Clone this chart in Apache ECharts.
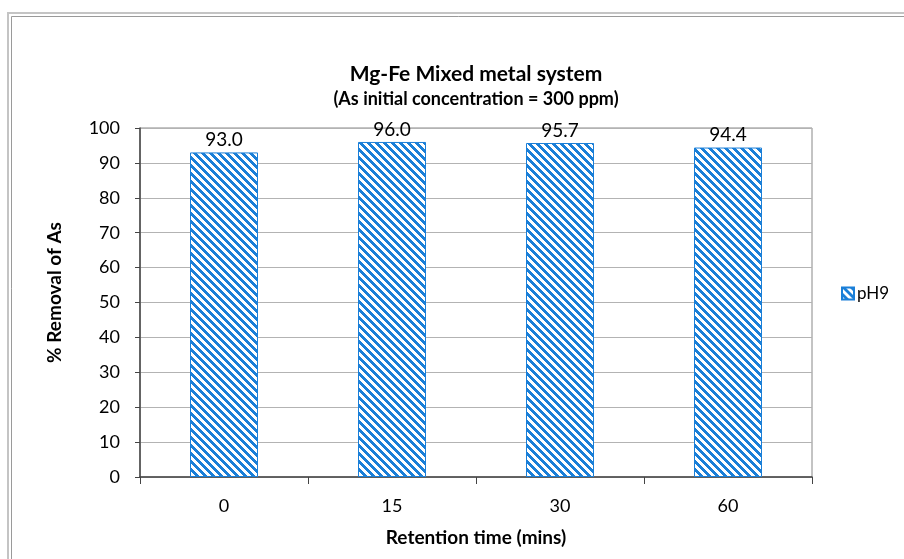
<!DOCTYPE html>
<html lang="en">
<head>
    <meta charset="utf-8">
    <title>Mg-Fe Mixed metal system</title>
    <script src="https://cdn.jsdelivr.net/npm/echarts@6/dist/echarts.min.js"></script>
    <style>
        html, body { margin: 0; padding: 0; background: #fff; }
        #chart { width: 904px; height: 559px; }
    </style>
</head>
<body>
<div id="chart"></div>
<script>
// 数据
var categories = ['0', '15', '30', '60'];
var removal = [93.0, 96.0, 95.7, 94.4];
var seriesName = 'pH9';

var FONT = 'Lato, "Open Sans", sans-serif';
var BLUE = '#1a7fd8';

// 斜线填充 (like the excel "wide downward diagonal")
function makeStripes() {
    var p = 8;
    var c = document.createElement('canvas');
    c.width = p; c.height = p;
    var ctx = c.getContext('2d');
    var img = ctx.createImageData(p, p);
    for (var y = 0; y < p; y++) {
        for (var x = 0; x < p; x++) {
            var i = (y * p + x) * 4;
            var on = ((x - y + p * 2) % p) < 4;
            img.data[i] = on ? 26 : 255;
            img.data[i + 1] = on ? 127 : 255;
            img.data[i + 2] = on ? 216 : 255;
            img.data[i + 3] = 255;
        }
    }
    ctx.putImageData(img, 0, 0);
    return c;
}
var stripes = { image: makeStripes(), repeat: 'repeat' };

var myChart = echarts.init(document.getElementById('chart'));
var option = {
    animation: false,
    title: [{
        text: 'Mg-Fe Mixed metal system',
        left: 471, top: 59, textAlign: 'center',
        textStyle: { fontFamily: FONT, fontSize: 21, fontWeight: 'bold', color: '#000' }
    }, {
        text: '(As initial concentration = 300 ppm)',
        left: 471, top: 85, textAlign: 'center',
        textStyle: { fontFamily: FONT, fontSize: 18, fontWeight: 'bold', color: '#000' }
    }],
    graphic: [{
        type: 'rect', silent: true,
        shape: { x: 8, y: 13, width: 920, height: 580 },
        style: { fill: 'none', stroke: '#c4c4c4', lineWidth: 2 }
    }, {
        type: 'rect', silent: true,
        shape: { x: 11.5, y: 16.5, width: 920, height: 580 },
        style: { fill: 'none', stroke: '#9a9a9a', lineWidth: 1 }
    }],
    legend: {
        data: [seriesName],
        left: 836, top: 280,
        icon: 'rect', itemWidth: 12, itemHeight: 12, itemGap: 4,
        textStyle: { fontFamily: FONT, fontSize: 17, color: '#000', padding: [0, 0, 0, -2] }
    },
    grid: { left: 140, right: 92, top: 128, height: 349, containLabel: false, show: true, borderColor: '#888', borderWidth: 1 },
    xAxis: {
        type: 'category',
        data: categories,
        name: 'Retention time (mins)',
        nameLocation: 'middle', nameGap: 51,
        nameTextStyle: { fontFamily: FONT, fontSize: 19, fontWeight: 'bold', color: '#000' },
        axisLine: { lineStyle: { color: '#444', width: 1.5 } },
        axisTick: { show: true, alignWithLabel: false, length: 7, lineStyle: { color: '#444' } },
        axisLabel: { fontFamily: FONT, fontSize: 18, color: '#000', margin: 20 }
    },
    yAxis: {
        type: 'value',
        min: 0, max: 100, interval: 10,
        name: '% Removal of As',
        nameLocation: 'middle', nameGap: 76, nameRotate: 90,
        nameTextStyle: { fontFamily: FONT, fontSize: 19, fontWeight: 'bold', color: '#000', padding: [0, 0, 0, 20] },
        axisLine: { show: true, lineStyle: { color: '#444', width: 1.5 } },
        axisTick: { show: true, length: 5, lineStyle: { color: '#444' } },
        axisLabel: { fontFamily: FONT, fontSize: 18, color: '#000', margin: 20 },
        splitLine: { lineStyle: { color: '#b3b3b3', width: 1 } }
    },
    series: [{
        name: seriesName,
        type: 'bar',
        data: removal,
        barWidth: 68,
        itemStyle: { color: stripes, borderColor: BLUE, borderWidth: 1 },
        label: {
            show: true, position: 'top', distance: 3,
            fontFamily: FONT, fontSize: 19, color: '#000',
            formatter: function (p) { return p.value.toFixed(1); }
        }
    }]
};
myChart.setOption(option);
</script>
</body>
</html>
